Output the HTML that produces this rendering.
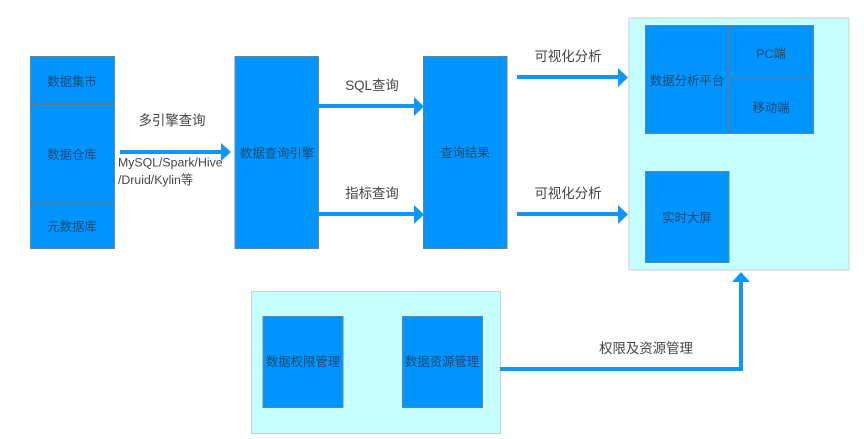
<!DOCTYPE html>
<html><head><meta charset="utf-8"><style>
html,body{margin:0;padding:0;background:#fff}
svg{display:block}
text{font-family:"Liberation Sans","Noto Sans CJK SC",sans-serif;text-anchor:middle}
.b{fill:#0094ff;stroke:#5a88a8;stroke-width:1}
.p{fill:#c6ffff;stroke:#c4d2d2;stroke-width:1}
.d{stroke:#5a7f99;stroke-width:1.5}
.t{font-size:12.4px;fill:#1d4a6e}
.l{font-size:13.4px;fill:#444}
.m{font-size:12.3px;fill:#444;text-anchor:start}
.a{fill:#0f96fa}
</style></head><body>
<svg width="864" height="439" viewBox="0 0 864 439" xmlns="http://www.w3.org/2000/svg">
<rect class="p" x="629" y="18" width="220" height="252"/>
<rect class="p" x="251.500" y="291.500" width="249" height="142"/>

<rect class="b" x="30.500" y="56.500" width="84" height="192"/>
<rect class="b" x="235" y="56.500" width="83.500" height="192"/>
<rect class="b" x="423.500" y="56.500" width="83.500" height="192"/>
<rect class="b" x="645.500" y="25.500" width="168" height="108"/>
<rect class="b" x="645.500" y="171.500" width="83.500" height="91"/>
<rect class="b" x="263" y="316.500" width="80" height="91"/>
<rect class="b" x="402.500" y="316.500" width="80" height="91"/>
<line class="d" x1="30.500" y1="104.500" x2="114.500" y2="104.500"/>
<line class="d" x1="30.500" y1="203" x2="114.500" y2="203"/>
<line class="d" x1="729" y1="25.500" x2="729" y2="133.500"/>
<line class="d" x1="729" y1="79" x2="813.500" y2="79"/>

<rect class="a" x="120" y="150" width="102" height="4"/><polygon class="a" points="221,143 231,152 221,161"/>
<rect class="a" x="318" y="104" width="97" height="4"/><polygon class="a" points="414,97 424,106.500 414,116"/>
<rect class="a" x="318" y="212" width="97" height="4"/><polygon class="a" points="414,205 424,214.500 414,224"/>
<rect class="a" x="517" y="75" width="102" height="4"/><polygon class="a" points="618,68 628,77.500 618,87"/>
<rect class="a" x="517" y="212" width="102" height="4"/><polygon class="a" points="618,205 628,214.500 618,224"/>
<rect class="a" x="500" y="367" width="243" height="4"/>
<rect class="a" x="739" y="281" width="4" height="90"/>
<polygon class="a" points="732,282 741,272 750,282"/>

<text class="t" x="72" y="86">数据集市</text>
<text class="t" x="72" y="159">数据仓库</text>
<text class="t" x="72" y="231">元数据库</text>
<text class="t" x="277" y="157.500">数据查询引擎</text>
<text class="t" x="465" y="157">查询结果</text>
<text class="t" x="687" y="85">数据分析平台</text>
<text class="t" x="771" y="58">PC端</text>
<text class="t" x="771" y="112">移动端</text>
<text class="t" x="687" y="222">实时大屏</text>
<text class="t" x="303" y="366">数据权限管理</text>
<text class="t" x="442" y="366">数据资源管理</text>

<text class="l" x="172" y="125">多引擎查询</text>
<text class="m" x="118" y="166.500">MySQL/Spark/Hive</text>
<text class="m" x="118" y="184">/Druid/Kylin等</text>
<text class="l" x="372" y="90">SQL查询</text>
<text class="l" x="372" y="198">指标查询</text>
<text class="l" x="568" y="61">可视化分析</text>
<text class="l" x="568" y="198">可视化分析</text>
<text class="l" x="646" y="353">权限及资源管理</text>
</svg>
</body></html>
